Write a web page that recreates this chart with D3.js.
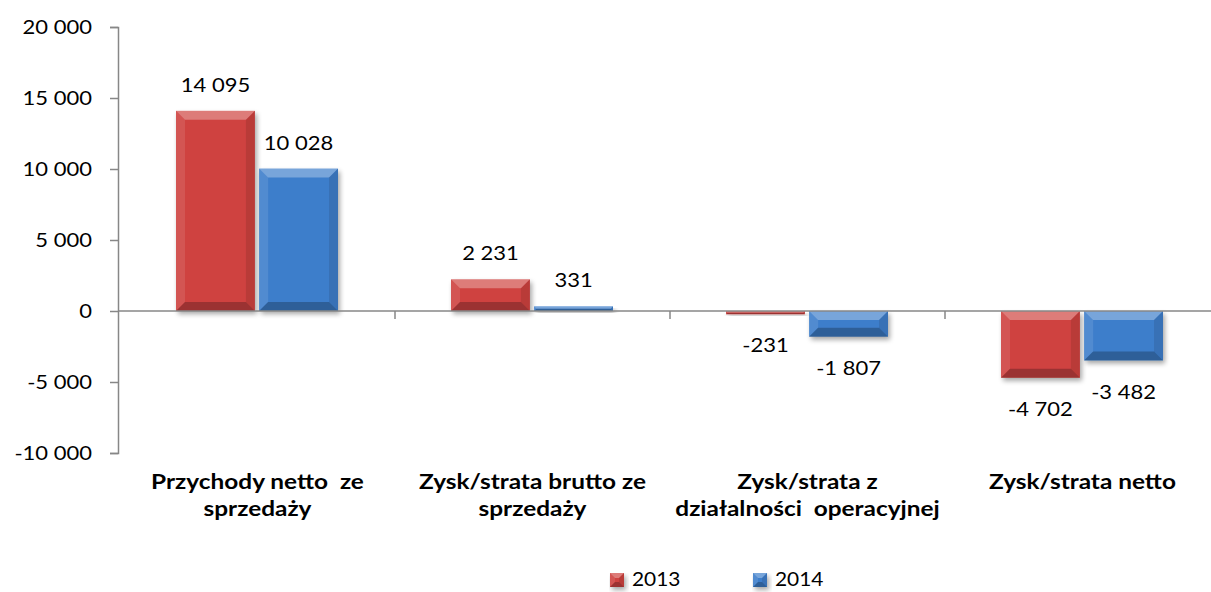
<!DOCTYPE html>
<html>
<head>
<meta charset="utf-8">
<script src="https://cdn.jsdelivr.net/npm/d3@7"></script>
<style>
  body { margin: 0; background: #fff; }
  svg { display: block; font-family: Lato, Carlito, Calibri, "Open Sans", sans-serif; }
  text { white-space: pre; }
</style>
</head>
<body>
<svg id="chart"></svg>
<script>
// data
const categories = [
  ["Przychody netto  ze", "sprzedaży"],
  ["Zysk/strata brutto ze", "sprzedaży"],
  ["Zysk/strata z", "działalności  operacyjnej"],
  ["Zysk/strata netto"]
];
const years = ["2013", "2014"];
const values2013 = [14095, 2231, -231, -4702];
const values2014 = [10028, 331, -1807, -3482];
const yTicks = [-10000, -5000, 0, 5000, 10000, 15000, 20000];

const colors = { "2013": "#cf4240", "2014": "#3e7ecb" };

const width = 1211, height = 592;
const sx = 1.1;      // reference text is a bit wide
const sxBold = 1.22;

const svg = d3.select("#chart").attr("width", width).attr("height", height);

const fmt = v => {
  const s = Math.abs(v).toString().replace(/\B(?=(\d{3})+(?!\d))/g, " ");
  return (v < 0 ? "-" : "") + s;
};

const y = d3.scaleLinear().domain([-10000, 20000]).range([453, 27]);
const x0 = d3.scaleBand().domain(d3.range(categories.length)).range([120, 1220]);
const x1 = d3.scaleBand().domain(years).range([56, 218]).paddingInner(0.05);

const rows = categories.map((c, i) => ({
  i, label: c,
  bars: [
    { year: "2013", v: values2013[i] },
    { year: "2014", v: values2014[i] }
  ]
}));

// shadow filter
const defs = svg.append("defs");
const f = defs.append("filter").attr("id", "shadow").attr("x", "-20%").attr("y", "-20%").attr("width", "150%").attr("height", "150%");
f.append("feGaussianBlur").attr("in", "SourceAlpha").attr("stdDeviation", 2.5);
f.append("feOffset").attr("dx", 2).attr("dy", 3).attr("result", "ob");
f.append("feComponentTransfer").append("feFuncA").attr("type", "linear").attr("slope", 0.35);
const m = f.append("feMerge");
m.append("feMergeNode");
m.append("feMergeNode").attr("in", "SourceGraphic");

// y axis
const yAxis = svg.append("g")
  .attr("transform", "translate(118,0)")
  .call(d3.axisLeft(y).tickValues(yTicks).tickSize(8).tickPadding(18).tickFormat(fmt));
yAxis.select(".domain").attr("stroke", "#878787").attr("stroke-width", 1.5);
yAxis.selectAll(".tick line").attr("stroke", "#878787").attr("stroke-width", 1.5);
yAxis.selectAll(".tick text").each(function () {
  const t = d3.select(this);
  const tx = +t.attr("x");
  t.attr("x", 0).attr("transform", `translate(${tx},0) scale(${sx},1)`)
    .attr("font-size", 20).attr("fill", "#000")
    .attr("font-family", "Lato, Carlito, Calibri, sans-serif");
});

// category ticks on zero line
svg.append("g").selectAll("line")
  .data(d3.range(1, categories.length))
  .join("line")
  .attr("x1", d => x0(d)).attr("x2", d => x0(d))
  .attr("y1", y(0)).attr("y2", y(0) + 8)
  .attr("stroke", "#878787").attr("stroke-width", 1.5);

// bars
const groups = svg.append("g").selectAll("g")
  .data(rows).join("g")
  .attr("transform", d => `translate(${x0(d.i)},0)`);

function drawBar(g, bx, by, bw, bh, col, bev) {
  const bar = g.append("g").attr("filter", "url(#shadow)");
  bar.append("rect").attr("x", bx).attr("y", by).attr("width", bw).attr("height", bh).attr("fill", col);
  const b = Math.min(bev, bh / 2, bw / 2);
  const x2 = bx + bw, y2 = by + bh;
  const poly = (pts, fill, op) => bar.append("polygon")
    .attr("points", pts.map(p => p.join(",")).join(" "))
    .attr("fill", fill).attr("fill-opacity", op);
  poly([[bx, by], [x2, by], [x2 - b, by + b], [bx + b, by + b]], "#fff", 0.3);
  poly([[bx, by], [bx + b, by + b], [bx + b, y2 - b], [bx, y2]], "#fff", 0.1);
  poly([[x2, by], [x2, y2], [x2 - b, y2 - b], [x2 - b, by + b]], "#000", 0.1);
  poly([[bx, y2], [bx + b, y2 - b], [x2 - b, y2 - b], [x2, y2]], "#000", 0.25);
}

groups.each(function (d) {
  const g = d3.select(this);
  d.bars.forEach(b => {
    const bx = x1(b.year), bw = x1.bandwidth();
    const top = y(Math.max(0, b.v)), bot = y(Math.min(0, b.v));
    drawBar(g, bx, top, bw, Math.max(1, bot - top), colors[b.year], 9);
    g.append("text")
      .attr("transform", `translate(${bx + bw / 2},${b.v >= 0 ? top - 27 : bot + 30}) scale(${sx},1)`)
      .attr("text-anchor", "middle")
      .attr("dominant-baseline", "central")
      .attr("font-size", 20)
      .text(fmt(b.v));
  });
});

// zero line on top of bars
svg.append("line")
  .attr("x1", 118).attr("x2", width)
  .attr("y1", y(0)).attr("y2", y(0))
  .attr("stroke", "#878787").attr("stroke-width", 1.5);

// category labels
groups.each(function (d) {
  const g = d3.select(this);
  d.label.forEach((line, k) => {
    g.append("text")
      .attr("transform", `translate(${x0.bandwidth() / 2},${489 + k * 27}) scale(${sxBold},1)`)
      .attr("text-anchor", "middle")
      .attr("font-size", 20).attr("font-weight", "bold")
      .text(line);
  });
});

// legend at the bottom edge
const legend = svg.append("g").selectAll("g")
  .data(years).join("g")
  .attr("transform", (d, i) => `translate(${610 + i * 143},573)`);
legend.each(function (d) {
  drawBar(d3.select(this), 0, 0, 14, 14, colors[d], 5);
});
legend.append("text")
  .attr("transform", `translate(22,13) scale(${sx},1)`)
  .attr("font-size", 19)
  .text(d => d);
</script>
</body>
</html>
